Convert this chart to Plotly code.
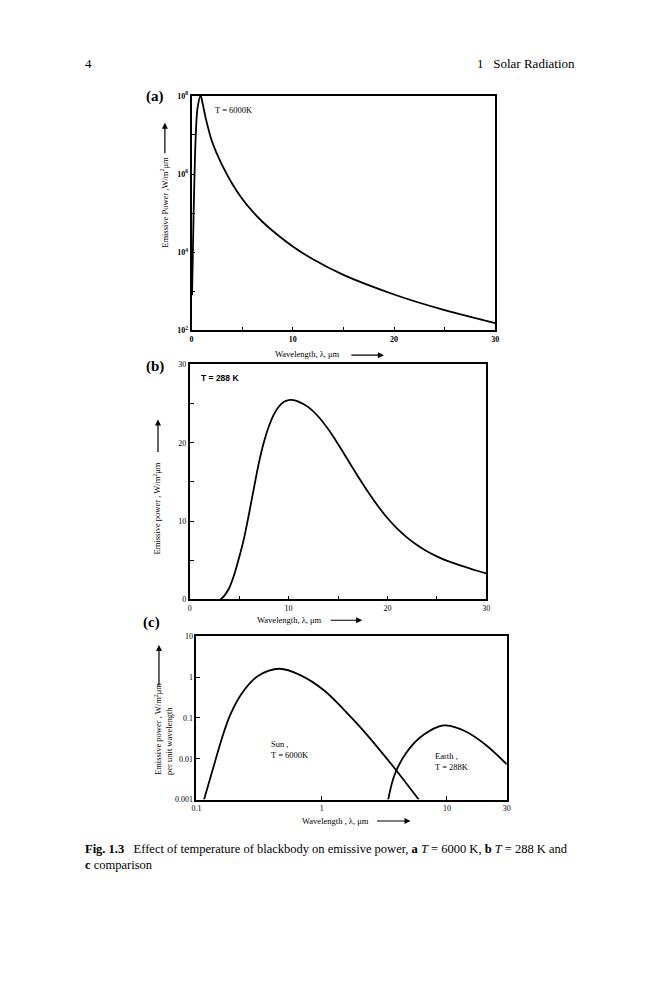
import plotly.graph_objects as go

W, H = 659, 1000
OFF = 8  # the page body adds an 8px margin; pull everything back by that

# (a) T = 6000 K, linear wavelength, log power
a_wl = [0.05, 0.2, 0.42, 0.6, 0.9, 1.1, 1.4, 2, 2.5, 3, 4, 5, 6, 7, 8, 10, 12, 15, 20, 25, 30]
a_ep = [8e2, 8e4, 1e7, 5e7, 1e8, 6.3e7, 2.69e7, 7.08e6, 3.31e6, 1.74e6, 5.75e5, 2.34e5,
        1.12e5, 6.03e4, 3.55e4, 1.41e4, 6.6e3, 2.63e3, 832, 331, 155]

# (b) T = 288 K, linear axes
b_wl = [3.1, 3.5, 4, 4.5, 5, 5.5, 6, 6.5, 7, 7.5, 8, 8.5, 9, 9.5, 10, 10.5, 11, 12, 13, 14,
        15, 16, 17, 18, 19, 20, 21, 22, 23, 24, 25, 26, 27, 28, 29, 30]
b_ep = [0, 0.5, 1.5, 3.2, 5.4, 7.9, 11.0, 14.3, 17.5, 20.1, 22.1, 23.6, 24.6, 25.2, 25.45, 25.45,
        25.25, 24.55, 23.35, 21.75, 19.85, 17.8, 15.75, 13.8, 12.0, 10.4, 9.05, 7.9, 6.95, 6.15,
        5.5, 4.95, 4.5, 4.1, 3.7, 3.33]

# (c) comparison, log-log
sun_wl = [0.115, 0.134, 0.16, 0.186, 0.23, 0.31, 0.46, 0.68, 1.04, 1.5, 2.03, 2.92, 4.19, 5.95]
sun_ep = [0.001, 0.00505, 0.0324, 0.119, 0.399, 1.07, 1.61, 1.11, 0.48, 0.161, 0.0596, 0.0161,
          0.00407, 0.001]
earth_wl = [3.39, 3.83, 4.73, 6.03, 8.66, 9.77, 14.0, 20.2, 30]
earth_ep = [0.001, 0.00418, 0.014, 0.0324, 0.0622, 0.0658, 0.0471, 0.0223, 0.0073]

a_yticks = [1e2, 1e3, 1e4, 1e5, 1e6, 1e7, 1e8]
a_ylabels = ["<b>10<sup>2</sup></b>", "", "<b>10<sup>4</sup></b>", "",
             "<b>10<sup>6</sup></b>", "", "<b>10<sup>8</sup></b>"]
lin_ticks = [0, 5, 10, 15, 20, 25, 30]
a_xlabels = ["<b>0</b>", "", "<b>10</b>", "", "<b>20</b>", "", "<b>30</b>"]
b_labels = ["0", "", "10", "", "20", "", "30"]
c_xticks = [0.1, 1, 10, 30]
c_xlabels = ["0.1", "1", "10", "30"]
c_yticks = [0.001, 0.01, 0.1, 1, 10]
c_ylabels = ["0.001", "0.01", "0.1", "1", "10"]

SERIF = "Liberation Serif"
SANS = "Liberation Sans"


def px(x):
    return (x - OFF) / W


def py(y):
    return 1 - (y - OFF) / H


line = dict(color="black", width=1.8, shape="spline", smoothing=1.0)

fig = go.Figure()
fig.add_trace(go.Scatter(x=a_wl, y=a_ep, mode="lines", line=line, xaxis="x", yaxis="y"))
fig.add_trace(go.Scatter(x=b_wl, y=b_ep, mode="lines", line=line, xaxis="x2", yaxis="y2"))
fig.add_trace(go.Scatter(x=sun_wl, y=sun_ep, mode="lines", line=line, xaxis="x3", yaxis="y3"))
fig.add_trace(go.Scatter(x=earth_wl, y=earth_ep, mode="lines", line=line, xaxis="x3", yaxis="y3"))

ax = dict(showline=True, mirror=True, linecolor="black", linewidth=1.8, showgrid=False,
          zeroline=False, ticks="inside", ticklen=4, tickwidth=1.2, tickcolor="black",
          tickfont=dict(family=SERIF, size=8, color="black"))

fig.update_layout(
    width=W, height=H, margin=dict(l=0, r=0, t=0, b=0),
    paper_bgcolor="white", plot_bgcolor="white", showlegend=False,
    xaxis=dict(ax, domain=[px(189), px(497)], anchor="y", range=[0, 30],
               tickvals=lin_ticks, ticktext=a_xlabels),
    yaxis=dict(ax, domain=[py(328), py(90.7)], anchor="x", type="log", range=[2, 8],
               tickvals=a_yticks, ticktext=a_ylabels),
    xaxis2=dict(ax, domain=[px(187.3), px(487.7)], anchor="y2", range=[0, 30],
                tickvals=lin_ticks, ticktext=b_labels),
    yaxis2=dict(ax, domain=[py(600), py(362.3)], anchor="x2", range=[0, 30],
                tickvals=lin_ticks, ticktext=b_labels),
    xaxis3=dict(ax, domain=[px(194), px(508.6)], anchor="y3", type="log",
                range=[-1, 1.4771], tickvals=c_xticks, ticktext=c_xlabels),
    yaxis3=dict(ax, domain=[py(802.3), py(637.3)], anchor="x3", type="log",
                range=[-3, 1], tickvals=c_yticks, ticktext=c_ylabels),
)

ann = []


def text(x, y, s, size=9, family=SERIF, angle=0, xanchor="center", align="center"):
    ann.append(dict(x=px(x), y=py(y), xref="paper", yref="paper", text=s, showarrow=False,
                    textangle=angle, xanchor=xanchor, yanchor="middle", align=align,
                    font=dict(family=family, size=size, color="black")))


def arrow(x0, y0, x1, y1):
    # tail (x0, y0) -> head (x1, y1), in pixels
    ann.append(dict(x=px(x1), y=py(y1), xref="paper", yref="paper", text="",
                    showarrow=True, axref="pixel", ayref="pixel", ax=x0 - x1, ay=y0 - y1,
                    arrowhead=2, arrowsize=1, arrowwidth=1.2, arrowcolor="black"))


# page header and caption
text(79, 58, "4", size=13, xanchor="left")
text(580, 58, "1&nbsp;&nbsp;&nbsp;Solar Radiation", size=13, xanchor="right")
text(79, 852, "<b>Fig. 1.3</b>&nbsp;&nbsp;&nbsp;Effect of temperature of blackbody on emissive power, "
     "<b>a</b> <i>T</i> = 6000 K, <b>b</b> <i>T</i> = 288 K and", size=12.5, xanchor="left")
text(79, 868, "<b>c</b> comparison", size=12.5, xanchor="left")

# panel letters
text(141, 91, "<b>(a)</b>", size=15, xanchor="left")
text(141, 364, "<b>(b)</b>", size=15, xanchor="left")
text(138, 623, "<b>(c)</b>", size=15, xanchor="left")

# (a)
text(211, 105, "T = 6000K", size=8.5, xanchor="left")
text(162, 198, "Emissive Power ,W/m<sup>2</sup>μm", size=8.5, angle=-90)
arrow(162, 150, 162, 118)
text(307, 352, "Wavelength, λ, μm", size=8.5)
arrow(350, 353, 384, 353)

# (b)
text(197, 376, "<b>T = 288 K</b>", size=8.5, family=SANS, xanchor="left")
text(154, 508, "Emissive power , W/m<sup>2</sup>μm", size=8.5, angle=-90)
arrow(155, 452, 155, 418)
text(288, 621, "Wavelength, λ, μm", size=8.5)
arrow(329, 621, 362, 621)

# (c)
text(268, 752, "Sun ,<br>T = 6000K", size=8.5, xanchor="left", align="left")
text(434, 764, "Earth ,<br>T = 288K", size=8.5, xanchor="left", align="left")
text(161, 731, "Emissive power , W/m<sup>2</sup>μm<br>per unit wavelength", size=8.5,
     angle=-90, align="left")
arrow(156, 688, 156, 646)
text(335, 824, "Wavelength , λ, μm", size=8.5)
arrow(376, 824, 411, 824)

fig.update_layout(annotations=ann)
fig.write_html("out.html")
